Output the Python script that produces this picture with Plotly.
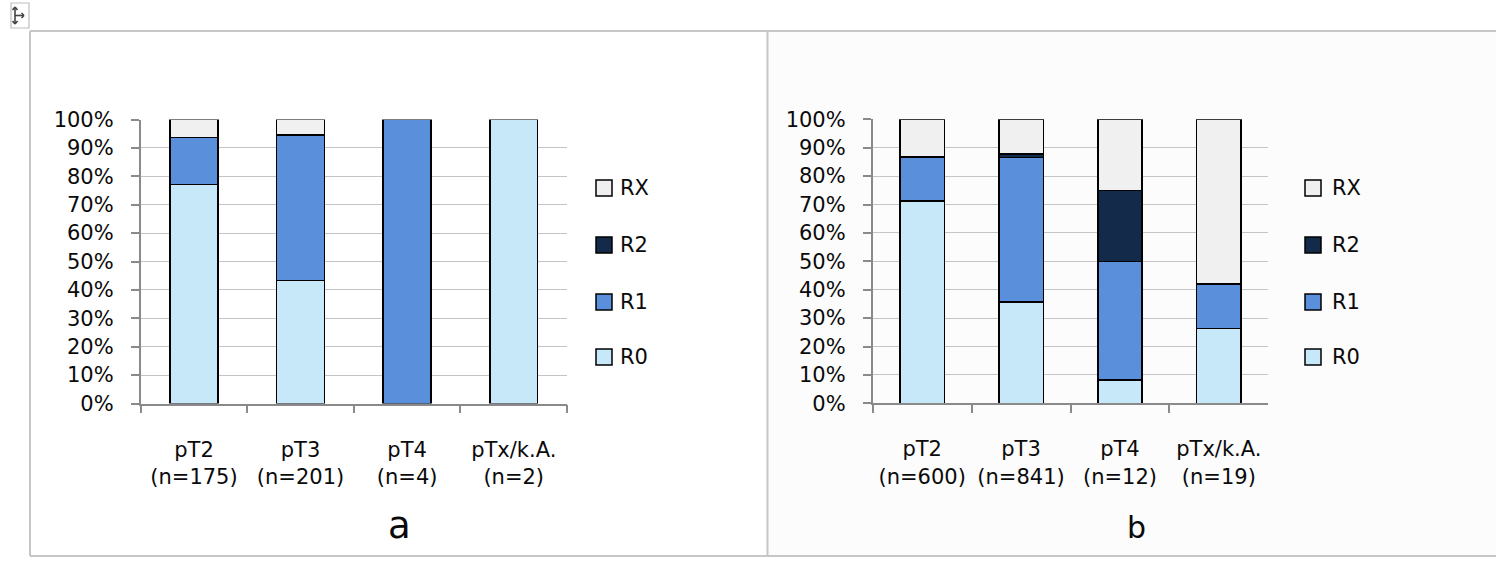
import plotly.graph_objects as go

# Tumour stages and case counts per cohort
stages = ["pT2", "pT3", "pT4", "pTx/k.A."]
n_a = [175, 201, 4, 2]
n_b = [600, 841, 12, 19]

# Resection status shares in percent (stacked bottom to top: R0, R1, R2, RX)
r0_a = [77.1, 43.3, 0.0, 100.0]
r1_a = [16.6, 51.2, 100.0, 0.0]
r2_a = [0.0, 0.0, 0.0, 0.0]
rx_a = [6.3, 5.5, 0.0, 0.0]

r0_b = [71.2, 35.6, 8.3, 26.3]
r1_b = [15.5, 50.9, 41.7, 15.8]
r2_b = [0.0, 1.2, 25.0, 0.0]
rx_b = [13.3, 12.3, 25.0, 57.9]

series_names = ["R0", "R1", "R2", "RX"]
colors = {"R0": "#c6e8f9", "R1": "#5a8fdc", "R2": "#132a4b", "RX": "#f0f0f0"}

W, H = 1496, 565
FONT = "DejaVu Sans"
TEXT = "#0a0a0a"


def px(x):
    return x / W


def py(y):
    return 1 - y / H


def tick_labels(ns):
    return [f"{s}<br>(n={n})" for s, n in zip(stages, ns)]


def nz(vals):
    return [v if v > 0 else None for v in vals]


fig = go.Figure()

panels = [
    ("x", "y", tick_labels(n_a), [r0_a, r1_a, r2_a, rx_a]),
    ("x2", "y2", tick_labels(n_b), [r0_b, r1_b, r2_b, rx_b]),
]
for xa, ya, cats, series in panels:
    for name, vals in zip(series_names, series):
        fig.add_trace(go.Bar(
            x=cats, y=nz(vals), name=name, xaxis=xa, yaxis=ya,
            marker=dict(color=colors[name], line=dict(color="#000000", width=1.6)),
            showlegend=False, hoverinfo="skip",
        ))

axis_line = "#8a8a8a"
grid = "#c4c4c4"
tick_font = dict(family=FONT, size=21, color=TEXT)

xcommon = dict(
    showline=True, linecolor=axis_line, linewidth=1.6,
    ticks="outside", tickson="boundaries", ticklen=8, tickcolor=axis_line, tickwidth=1.6,
    tickfont=tick_font, showgrid=False, ticklabelstandoff=26, fixedrange=True,
    automargin=False,
)
ycommon = dict(
    range=[0, 100], dtick=10, ticksuffix="%",
    showline=True, linecolor=axis_line, linewidth=1.6,
    ticks="outside", ticklen=8, tickcolor=axis_line, tickwidth=1.6,
    tickfont=tick_font, showgrid=True, gridcolor=grid, gridwidth=1.3,
    zeroline=False, ticklabelstandoff=13, fixedrange=True,
    automargin=False,
)

fig.update_layout(
    width=W, height=H, autosize=False,
    margin=dict(l=0, r=0, t=0, b=0, pad=0),
    paper_bgcolor="white", plot_bgcolor="rgba(0,0,0,0)",
    barmode="stack", bargap=0.55,
    showlegend=False,
    font=dict(family=FONT, color=TEXT),
    xaxis=dict(domain=[px(140.7), px(567)], anchor="y", **xcommon),
    yaxis=dict(domain=[py(403.5), py(119.5)], anchor="x", **ycommon),
    xaxis2=dict(domain=[px(872.7), px(1268.3)], anchor="y2", **xcommon),
    yaxis2=dict(domain=[py(403.3), py(119.3)], anchor="x2", **ycommon),
)

shapes = []
border = "#c6c6c6"
# light background of the right cell
shapes.append(dict(type="rect", xref="paper", yref="paper", layer="below",
                   x0=px(768), x1=1, y0=py(556), y1=py(31),
                   line=dict(width=0), fillcolor="#fcfcfc"))
# table cell borders
for x0, y0, x1, y1 in [(30, 31, W, 31), (30, 556, W, 556), (30, 31, 30, 556), (767.5, 31, 767.5, 556)]:
    shapes.append(dict(type="line", xref="paper", yref="paper",
                       x0=px(x0), x1=px(x1), y0=py(y0), y1=py(y1),
                       line=dict(color=border, width=2)))

# table move handle in the top-left corner
shapes.append(dict(type="rect", xref="paper", yref="paper",
                   x0=px(11), x1=px(29), y0=py(28), y1=py(3),
                   line=dict(color="#bdbdbd", width=1.2), fillcolor="white"))
handle = "#444444"
for x0, y0, x1, y1 in [(15, 7, 15, 24), (15, 15.5, 24, 15.5),
                       (12.5, 10, 15, 7), (17.5, 10, 15, 7),
                       (12.5, 21, 15, 24), (17.5, 21, 15, 24),
                       (21.5, 13, 24, 15.5), (21.5, 18, 24, 15.5)]:
    shapes.append(dict(type="line", xref="paper", yref="paper",
                       x0=px(x0), x1=px(x1), y0=py(y0), y1=py(y1),
                       line=dict(color=handle, width=1.6)))

annotations = []
# legends (top to bottom: RX, R2, R1, R0)
legend_rows = [("RX", 188), ("R2", 245), ("R1", 302), ("R0", 357)]
for box_x, text_x in [(596, 618), (1305, 1330)]:
    for name, yc in legend_rows:
        shapes.append(dict(type="rect", xref="paper", yref="paper",
                           x0=px(box_x), x1=px(box_x + 16), y0=py(yc + 8), y1=py(yc - 8),
                           line=dict(color="#000000", width=1.5), fillcolor=colors[name]))
        annotations.append(dict(xref="paper", yref="paper", x=px(text_x), y=py(yc),
                                text=name, showarrow=False, xanchor="left", yanchor="middle",
                                font=dict(family=FONT, size=21, color=TEXT)))

# panel letters
annotations.append(dict(xref="paper", yref="paper", x=px(399), y=py(525), text="a",
                        showarrow=False, xanchor="center", yanchor="middle",
                        font=dict(family=FONT, size=37, color=TEXT)))
annotations.append(dict(xref="paper", yref="paper", x=px(1136), y=py(527), text="b",
                        showarrow=False, xanchor="center", yanchor="middle",
                        font=dict(family=FONT, size=30, color=TEXT)))

fig.update_layout(shapes=shapes, annotations=annotations)

fig.write_html("out.html", config={"displayModeBar": False})
